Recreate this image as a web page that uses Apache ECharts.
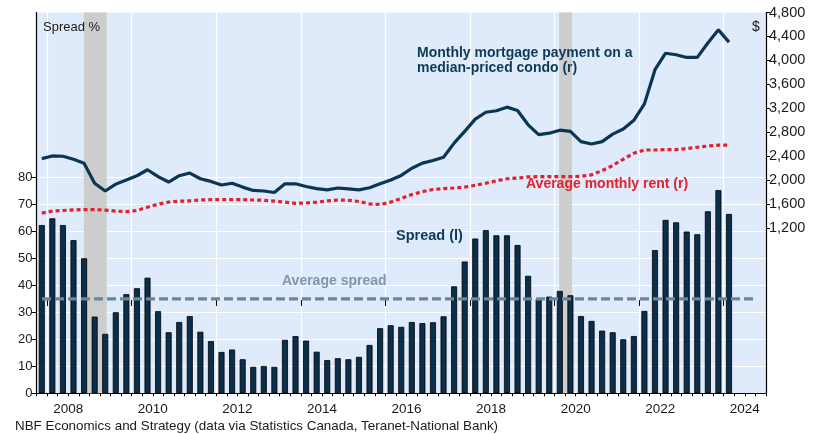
<!DOCTYPE html>
<html>
<head>
<meta charset="utf-8">
<script src="https://cdn.jsdelivr.net/npm/echarts@6/dist/echarts.min.js"></script>
<style>
  html, body { margin: 0; padding: 0; background: #fff; }
  #chart { width: 823px; height: 434px; }
</style>
</head>
<body>
<div id="chart"></div>
<script>
// quarterly data, first quarter = 2007Q4
const startYear = 2007, startQuarter = 4;

// spread between mortgage payment and rent, % (left axis)
const spread = [
  62.3, 64.8, 62.3, 56.7, 50.0, 28.4, 22.0, 30.0, 36.7, 38.9,
  42.8, 30.4, 22.6, 26.4, 28.6, 22.8, 19.3, 15.3, 16.2, 12.6,
  9.8, 10.1, 9.8, 19.8, 21.2, 19.5, 15.4, 12.3, 13.0, 12.6,
  13.5, 17.9, 24.1, 25.2, 24.6, 26.4, 26.0, 26.3, 28.5, 39.6,
  48.8, 57.3, 60.4, 58.5, 58.5, 54.9, 43.5, 34.9, 35.8, 37.9,
  36.3, 28.6, 26.8, 23.2, 22.6, 20.0, 21.2, 30.5, 53.0, 64.2,
  63.3, 59.9, 58.9, 67.4, 75.2, 66.4
];

// monthly mortgage payment on a median-priced condo, $ (right axis)
const mortgage = [
  2360, 2405, 2400, 2350, 2285, 1950, 1820, 1935, 2005, 2075,
  2175, 2060, 1970, 2075, 2120, 2025, 1980, 1920, 1950, 1885,
  1830, 1820, 1795, 1940, 1940, 1895, 1860, 1840, 1870, 1855,
  1840, 1875, 1940, 2005, 2080, 2200, 2285, 2330, 2385, 2620,
  2815, 3020, 3135, 3160, 3220, 3165, 2925, 2760, 2785, 2835,
  2815, 2645, 2605, 2645, 2770, 2855, 3000, 3275, 3845, 4120,
  4095, 4050, 4050, 4290, 4510, 4305
];

// average monthly rent, $ (right axis)
const rent = [
  1450, 1485, 1495, 1505, 1510, 1510, 1500, 1485, 1475, 1495,
  1550, 1600, 1635, 1650, 1655, 1670, 1675, 1675, 1675, 1675,
  1670, 1665, 1650, 1635, 1615, 1620, 1635, 1655, 1670, 1665,
  1645, 1605, 1595, 1635, 1695, 1760, 1810, 1845, 1860, 1870,
  1885, 1915, 1950, 1990, 2025, 2035, 2055, 2060, 2060, 2060,
  2060, 2065, 2090, 2160, 2245, 2350, 2450, 2505, 2505, 2510,
  2510, 2530, 2550, 2570, 2585, 2585
];

const avgSpread = 35;
const avgSpan = [2007.88, 2024.74];
const recessions = [[2008.87, 2009.41], [2020.11, 2020.41]];

const leftTicks = [0, 10, 20, 30, 40, 50, 60, 70, 80];
const rightTicks = [1200, 1600, 2000, 2400, 2800, 3200, 3600, 4000, 4400, 4800];
const yearLines = [2008, 2010, 2012, 2014, 2016, 2018, 2020, 2022, 2024];

const quarters = spread.map((_, i) => {
  const k = startQuarter - 1 + i;
  return (startYear + Math.floor(k / 4)) + 'Q' + (k % 4 + 1);
});
function qCenter(label) {
  const y = +label.slice(0, 4), q = +label.slice(5);
  return y + (q - 1) * 0.25 + 0.125;
}
const pairs = arr => quarters.map((q, i) => [qCenter(q), arr[i]]);

const FONT = '"Liberation Sans", Arial, sans-serif';
const TXT = '#1a1a1a';

const chart = echarts.init(document.getElementById('chart'));
chart.setOption({
  animation: false,
  backgroundColor: '#fff',
  grid: {
    left: 36.5, right: 57, top: 12.5, bottom: 40.7,
    show: true, backgroundColor: '#dfeafb', borderWidth: 0
  },
  xAxis: [
    {
      type: 'value', min: 2007.75, max: 2025, interval: 0.25,
      axisLine: { lineStyle: { color: '#000', width: 1.2 } },
      axisTick: { length: 3, lineStyle: { color: '#000' } },
      axisLabel: {
        margin: 9, color: TXT, fontSize: 13.5, fontFamily: FONT,
        formatter: v => {
          const y = Math.floor(v);
          return (Math.abs(v - y - 0.5) < 1e-6 && y % 2 === 0) ? String(y) : '';
        }
      },
      splitLine: { show: false }
    },
    {
      type: 'value', min: 2007.75, max: 2025, position: 'bottom',
      axisLine: { show: false },
      axisTick: { show: true, length: 6, customValues: yearLines, lineStyle: { color: '#000' } },
      axisLabel: { show: false },
      splitLine: { show: true, lineStyle: { color: '#fff', width: 1.2 } }
    }
  ],
  yAxis: [
    {
      type: 'value', min: 0, max: 141,
      axisLine: { show: true, lineStyle: { color: '#000', width: 1.2 } },
      axisTick: { show: true, length: 5, customValues: leftTicks, lineStyle: { color: '#000' } },
      axisLabel: { customValues: leftTicks, margin: 4, color: TXT, fontSize: 13, fontFamily: FONT },
      splitLine: { show: true, lineStyle: { color: '#fff', width: 1.2 } }
    },
    {
      type: 'value', min: -1557, max: 4800, position: 'right',
      axisLine: { show: true, lineStyle: { color: '#000', width: 1.2 } },
      axisTick: { show: true, length: 4, customValues: rightTicks, lineStyle: { color: '#000' } },
      axisLabel: {
        customValues: rightTicks, margin: 3, color: TXT, fontSize: 14.5, fontFamily: FONT,
        formatter: v => v.toLocaleString('en-US')
      },
      splitLine: { show: false }
    }
  ],
  series: [
    {
      name: 'Recession', type: 'line', xAxisIndex: 0, yAxisIndex: 0,
      data: [], silent: true, z: 1,
      markArea: {
        silent: true,
        itemStyle: { color: '#cdcdcd' },
        data: recessions.map(r => [{ xAxis: r[0], yAxis: 0 }, { xAxis: r[1], yAxis: 141 }])
      }
    },
    {
      name: 'Spread (l)', type: 'bar', xAxisIndex: 0, yAxisIndex: 0,
      data: pairs(spread), barWidth: 6, z: 2,
      itemStyle: { color: '#0b2e4a', borderColor: '#000', borderWidth: 0.8 }
    },
    {
      name: 'Average spread', type: 'line', xAxisIndex: 0, yAxisIndex: 0,
      data: avgSpan.map(x => [x, avgSpread]), symbol: 'none', z: 3,
      lineStyle: { color: '#6b8799', width: 3.2, type: [9, 4] }
    },
    {
      name: 'Average monthly rent (r)', type: 'line', xAxisIndex: 0, yAxisIndex: 1,
      data: pairs(rent), symbol: 'none', z: 4,
      lineStyle: { color: '#e3212b', width: 3.2, type: [4, 3] }
    },
    {
      name: 'Monthly mortgage payment (r)', type: 'line', xAxisIndex: 0, yAxisIndex: 1,
      data: pairs(mortgage), symbol: 'none', z: 5,
      lineStyle: { color: '#0a3553', width: 3.2 }
    }
  ],
  graphic: [
    { type: 'text', z: 100, left: 43, top: 21, style: { text: 'Spread %', font: '13px ' + FONT, fill: TXT } },
    { type: 'text', z: 100, left: 752, top: 20, style: { text: '$', font: '14px ' + FONT, fill: TXT } },
    { type: 'text', z: 100, left: 417, top: 46, style: { text: 'Monthly mortgage payment on a\nmedian-priced condo (r)', font: 'bold 14px ' + FONT, fill: '#0d3a56', lineHeight: 15 } },
    { type: 'text', z: 100, left: 526, top: 177, style: { text: 'Average monthly rent (r)', font: 'bold 14px ' + FONT, fill: '#e3212b' } },
    { type: 'text', z: 100, left: 396, top: 228, style: { text: 'Spread (l)', font: 'bold 14.5px ' + FONT, fill: '#0d3a56' } },
    { type: 'text', z: 100, left: 282, top: 274, style: { text: 'Average spread', font: 'bold 14px ' + FONT, fill: '#7f98a9' } },
    { type: 'text', z: 100, left: 15, top: 420, style: { text: 'NBF Economics and Strategy (data via Statistics Canada, Teranet-National Bank)', font: '13.4px ' + FONT, fill: TXT } }
  ]
});
</script>
</body>
</html>
